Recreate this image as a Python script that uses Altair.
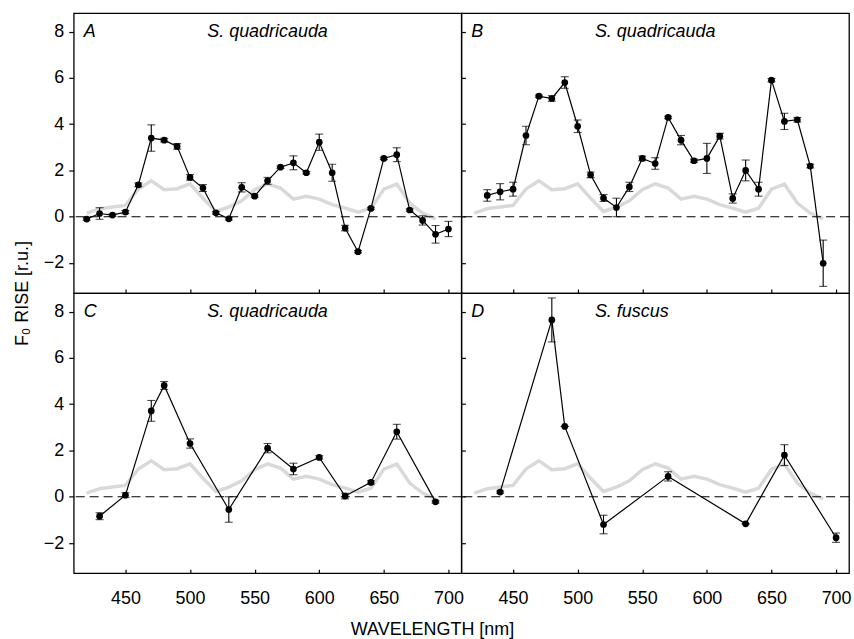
import altair as alt
import pandas as pd

# ---- data ----
ref_wl = [420, 430, 440, 450, 460, 470, 480, 490, 500, 510, 520, 530, 540, 550,
          560, 570, 580, 590, 600, 610, 620, 630, 640, 650, 660, 670, 680, 690]
ref_val = [0.16, 0.35, 0.42, 0.49, 1.2, 1.55, 1.17, 1.21, 1.42, 0.8, 0.23, 0.42, 0.69, 1.17,
           1.42, 1.24, 0.76, 0.88, 0.76, 0.52, 0.37, 0.2, 0.37, 1.19, 1.41, 0.59, 0.16, -0.09]

A_wl = [420, 430, 440, 450, 460, 470, 480, 490, 500, 510, 520, 530, 540, 550, 560,
        570, 580, 590, 600, 610, 620, 630, 640, 650, 660, 670, 680, 690, 700]
A_val = [-0.1, 0.14, 0.07, 0.2, 1.38, 3.4, 3.31, 3.04, 1.7, 1.24, 0.17, -0.09, 1.27, 0.89, 1.55,
         2.14, 2.33, 1.9, 3.22, 1.9, -0.49, -1.51, 0.36, 2.52, 2.68, 0.29, -0.16, -0.76, -0.53]
A_err = [0.05, 0.25, 0.05, 0.07, 0.08, 0.57, 0.08, 0.12, 0.12, 0.15, 0.05, 0.05, 0.2, 0.05, 0.15,
         0.05, 0.3, 0.05, 0.35, 0.37, 0.12, 0.05, 0.05, 0.05, 0.3, 0.05, 0.2, 0.38, 0.33]

B_wl = [430, 440, 450, 460, 470, 480, 490, 500, 510, 520, 530, 540, 550, 560,
        570, 580, 590, 600, 610, 620, 630, 640, 650, 660, 670, 680, 690]
B_val = [0.92, 1.08, 1.19, 3.51, 5.21, 5.11, 5.8, 3.91, 1.81, 0.81, 0.4, 1.29, 2.52, 2.3,
         4.29, 3.31, 2.42, 2.52, 3.48, 0.79, 2.0, 1.19, 5.9, 4.12, 4.19, 2.19, -2.01]
B_err = [0.25, 0.35, 0.3, 0.4, 0.05, 0.12, 0.25, 0.27, 0.12, 0.15, 0.4, 0.2, 0.1, 0.25,
         0.05, 0.2, 0.07, 0.65, 0.12, 0.2, 0.45, 0.3, 0.07, 0.35, 0.1, 0.08, 1.0]

C_wl = [430, 450, 470, 480, 500, 530, 560, 580, 600, 620, 640, 660, 690]
C_val = [-0.84, 0.07, 3.71, 4.81, 2.3, -0.55, 2.1, 1.2, 1.7, 0.03, 0.62, 2.81, -0.22]
C_err = [0.15, 0.1, 0.45, 0.17, 0.2, 0.55, 0.2, 0.25, 0.07, 0.12, 0.07, 0.32, 0.05]

D_wl = [440, 480, 490, 520, 570, 630, 660, 700]
D_val = [0.2, 7.64, 3.04, -1.2, 0.88, -1.17, 1.8, -1.77]
D_err = [0.05, 0.95, 0.0, 0.4, 0.2, 0.0, 0.45, 0.2]

x_ticks = [450, 500, 550, 600, 650, 700]
y_ticks = [-2, 0, 2, 4, 6, 8]
y_title = "F\u2080 RISE [r.u.]"

FONT = "Liberation Sans"
W, H = 389, 281
XDOM = [410, 710]
YDOM = [-3.3, 8.8]


def panel(wl, val, err, letter, species, bottom, left, with_title=False):
    df = pd.DataFrame({"wl": wl, "v": val, "e": err})
    df["lo"] = df["v"] - df["e"]
    df["hi"] = df["v"] + df["e"]
    ref = pd.DataFrame({"wl": ref_wl, "v": ref_val})
    zero = pd.DataFrame({"v": [0]})
    lab = pd.DataFrame({"k": [0]})

    xaxis = alt.Axis(values=x_ticks, orient="bottom", offset=-4, tickSize=4, domain=False,
                     grid=False, labels=bottom, labelPadding=16, labelFontSize=18,
                     labelFont=FONT, labelColor="black", tickColor="black", tickWidth=1.2,
                     title=None)
    if left:
        yargs = dict(values=y_ticks, orient="left", tickSize=5, domain=False, grid=False,
                     labelPadding=5, labelFontSize=18, labelFont=FONT, labelColor="black",
                     tickColor="black", tickWidth=1.2)
        if with_title:
            yaxis = alt.Axis(title=y_title, titleFont=FONT, titleFontSize=18,
                             titleFontWeight="normal", titleColor="black",
                             titleX=-51, titleY=H, titleAngle=270, titleAlign="center",
                             titleBaseline="middle", **yargs)
        else:
            yaxis = alt.Axis(title=None, **yargs)
    else:
        yaxis = alt.Axis(values=y_ticks, orient="left", offset=-4, tickSize=4, domain=False,
                         grid=False, labels=False, tickColor="black", tickWidth=1.2, title=None)

    xs = alt.Scale(domain=XDOM, nice=False, zero=False)
    ys = alt.Scale(domain=YDOM, nice=False, zero=False)
    X = alt.X("wl:Q", scale=xs, axis=xaxis)
    Y = alt.Y("v:Q", scale=ys, axis=yaxis)

    gray = alt.Chart(ref).mark_line(color="#d9d9d9", strokeWidth=3.5).encode(x=X, y=Y)
    zrule = alt.Chart(zero).mark_rule(color="black", strokeDash=[9, 5], strokeWidth=1.2).encode(y=Y)
    line = alt.Chart(df).mark_line(color="black", strokeWidth=1.2).encode(x=X, y=Y)
    ebar = alt.Chart(df).mark_rule(color="black", strokeWidth=1.1).encode(
        x=X, y=alt.Y("lo:Q", scale=ys, axis=yaxis), y2="hi:Q")
    tlo = alt.Chart(df).mark_tick(color="black", orient="horizontal", size=8, thickness=1.1).encode(
        x=X, y=alt.Y("lo:Q", scale=ys, axis=yaxis))
    thi = alt.Chart(df).mark_tick(color="black", orient="horizontal", size=8, thickness=1.1).encode(
        x=X, y=alt.Y("hi:Q", scale=ys, axis=yaxis))
    pts = alt.Chart(df).mark_point(filled=True, color="black", size=45, opacity=1).encode(x=X, y=Y)
    t1 = alt.Chart(lab).mark_text(text=letter, font=FONT, fontSize=18, fontStyle="italic",
                                  align="left", baseline="middle", color="black").encode(
        x=alt.value(10), y=alt.value(19))
    t2 = alt.Chart(lab).mark_text(text=species, font=FONT, fontSize=18, fontStyle="italic",
                                  align="left", baseline="middle", color="black").encode(
        x=alt.value(134), y=alt.value(19))
    return alt.layer(gray, zrule, line, ebar, tlo, thi, pts, t1, t2).properties(width=W, height=H)


A = panel(A_wl, A_val, A_err, "A", "S. quadricauda", bottom=False, left=True, with_title=True)
B = panel(B_wl, B_val, B_err, "B", "S. quadricauda", bottom=False, left=False)
C = panel(C_wl, C_val, C_err, "C", "S. quadricauda", bottom=True, left=True)
D = panel(D_wl, D_val, D_err, "D", "S. fuscus", bottom=True, left=False)

chart = alt.concat(A, B, C, D, columns=2, spacing=0, bounds="flush").properties(
    title=alt.TitleParams("WAVELENGTH [nm]", orient="bottom", anchor="middle",
                          font=FONT, fontSize=18, fontWeight="normal", color="black", offset=13),
    padding={"left": 13, "top": 11, "right": 2, "bottom": 2},
    background="white",
).configure_view(stroke="black", strokeWidth=1.3)

chart.save("out.html", embed_options={"renderer": "svg", "actions": False})
